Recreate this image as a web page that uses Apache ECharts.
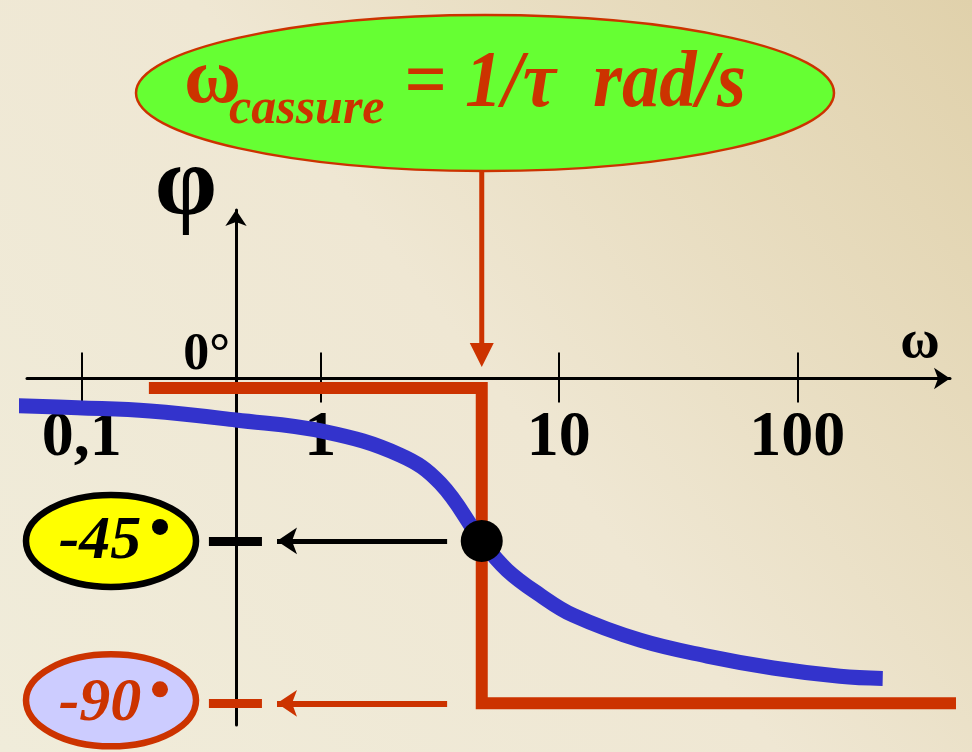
<!DOCTYPE html>
<html>
<head>
<meta charset="utf-8">
<script src="https://cdn.jsdelivr.net/npm/echarts@6/dist/echarts.min.js"></script>
<style>
  html, body { margin: 0; padding: 0; }
  #main { width: 972px; height: 752px; }
</style>
</head>
<body>
<div id="main"></div>
<script>
// decades shown on the omega axis
const tickValues = [0.1, 1, 10, 100];
const tickLabels = ['0,1', '1', '10', '100'];

// break frequency (rad/s)
const omegaC = 4.75;

const curveOmega = [0.054, 0.096, 0.193, 0.443, 1.04, 2.16, 3.18, 4.75, 6.07, 8.35, 11.5, 21.9, 41.9, 79.2, 151, 228];
const curvePhase = [-7.5, -8.1, -9.0, -11.5, -14.7, -21.2, -29.0, -45, -53.1, -60.0, -65.6, -72.5, -76.9, -80.2, -82.5, -83.1];

// asymptotic approximation
const asymOmega = [0.191, omegaC, omegaC, 541];
const asymPhase = [-2.6, -2.6, -90, -90];

// phase marks on the phi axis
const markPhase = [-45, -90];
const markText = ['-45', '-90'];

const RED = '#cc3300';
const BLUE = '#3333cc';
const SERIF = '"Liberation Serif", "Times New Roman", serif';

const lg = Math.log10;

let chart = echarts.init(document.getElementById('main'));

function tickLabel(v) {
  const i = tickValues.findIndex(t => Math.abs(lg(t) - Number(v)) < 1e-6);
  return i < 0 ? '' : tickLabels[i];
}

const option = {
  animation: false,
  backgroundColor: {
    type: 'linear', x: 0, y: 1, x2: 1, y2: 0,
    colorStops: [
      { offset: 0, color: '#f0ecda' },
      { offset: 0.5, color: '#efe7d3' },
      { offset: 1, color: '#e0d1ab' }
    ]
  },
  grid: { left: 27, right: 22, top: 210, bottom: 27, outerBoundsMode: 'none' },
  xAxis: [{
    type: 'value', min: -1.23, max: 2.64,
    axisLine: { show: true, onZero: true, symbol: ['none', 'arrow'], symbolSize: [16, 16],
      lineStyle: { color: '#000', width: 3 } },
    axisTick: { show: true, customValues: tickValues.map(lg), length: 24,
      lineStyle: { color: '#000', width: 2 } },
    axisLabel: { show: true, customValues: tickValues.map(lg), formatter: tickLabel, margin: 28,
      color: '#000', fontFamily: SERIF, fontWeight: 'bold', fontSize: 64 },
    splitLine: { show: false }
  }, {
    // second copy of the axis, only for the upper half of the ticks
    type: 'value', min: -1.23, max: 2.64, position: 'top',
    axisLine: { show: false, onZero: true, onZeroAxisIndex: 0 },
    axisTick: { show: true, customValues: tickValues.map(lg), length: 26,
      lineStyle: { color: '#000', width: 2 } },
    axisLabel: { show: false },
    splitLine: { show: false }
  }],
  yAxis: {
    type: 'value', min: -96, max: 46.7, offset: -209,
    axisLine: { show: true, onZero: false, symbol: ['none', 'arrow'], symbolSize: [16, 16],
      lineStyle: { color: '#000', width: 3 } },
    axisTick: { show: false },
    axisLabel: { show: false },
    splitLine: { show: false }
  },
  series: [
    {
      type: 'line',
      data: asymOmega.map((w, i) => [lg(w), asymPhase[i]]),
      showSymbol: false, symbol: 'none', clip: false, silent: true,
      lineStyle: { color: RED, width: 12, join: 'miter', cap: 'butt' }
    },
    {
      type: 'line',
      data: curveOmega.map((w, i) => [lg(w), curvePhase[i]]),
      showSymbol: false, symbol: 'none', smooth: 0.4, clip: false, silent: true,
      lineStyle: { color: BLUE, width: 15, cap: 'butt' }
    },
    {
      type: 'scatter',
      data: [[lg(omegaC), -45]],
      symbolSize: 42, clip: false, silent: true, z: 5,
      itemStyle: { color: '#000', opacity: 1 },
      markLine: {
        silent: true, symbol: 'none', label: { show: false },
        data: [
          [{ coord: [lg(0.341), -45], lineStyle: { color: '#000', width: 9, type: 'solid' } },
           { coord: [lg(0.569), -45] }],
          [{ coord: [lg(0.341), -90], lineStyle: { color: RED, width: 9, type: 'solid' } },
           { coord: [lg(0.569), -90] }],
          [{ coord: [lg(3.40), -45], lineStyle: { color: '#000', width: 5, type: 'solid' } },
           { coord: [lg(0.658), -45], symbol: 'arrow', symbolSize: [20, 20] }],
          [{ coord: [lg(3.40), -90], lineStyle: { color: RED, width: 6, type: 'solid' } },
           { coord: [lg(0.658), -90], symbol: 'arrow', symbolSize: [20, 20] }]
        ]
      }
    }
  ]
};

chart.setOption(option);

// annotations placed from the axes
const toPx = (w, p) => chart.convertToPixel({ gridIndex: 0 }, [lg(w), p]);
const zeroY = toPx(1, 0)[1];
const cx = toPx(omegaC, 0)[0];

// the tick labels stay at the grid bottom, pull them up under the zero line
const gridBottom = 752 - 27;
chart.setOption({ xAxis: [{ axisLabel: { margin: 28 - (gridBottom - zeroY) } }, {}] });

const graphics = [];

// callout ellipse with the break frequency
graphics.push({
  type: 'ellipse', shape: { cx: 485, cy: 93, rx: 349, ry: 78 },
  style: { fill: '#66ff33', stroke: RED, lineWidth: 2.5 }, z: 10
});
graphics.push({
  type: 'text', x: 184, y: 82, z: 11,
  style: { text: 'ω', fill: RED, font: 'bold 78px ' + SERIF, align: 'left', verticalAlign: 'middle' }
});
graphics.push({
  type: 'text', x: 229, y: 110, z: 11,
  style: { text: 'cassure', fill: RED, font: 'italic bold 50px ' + SERIF, align: 'left', verticalAlign: 'middle' }
});
graphics.push({
  type: 'text', x: 404, y: 85, z: 11,
  style: { text: '= 1/τ  rad/s', fill: RED, font: 'italic bold 80px ' + SERIF, align: 'left',
    verticalAlign: 'middle' },
  scaleX: 0.93, originX: 0
});
graphics.push({
  type: 'line', shape: { x1: cx, y1: 171, x2: cx, y2: 345 },
  style: { stroke: RED, lineWidth: 5 }, z: 10
});
graphics.push({
  type: 'polygon', shape: { points: [[cx - 12, 343], [cx + 12, 343], [cx, 367]] },
  style: { fill: RED }, z: 10
});

// axis names
graphics.push({
  type: 'text', x: 186, y: 188, z: 11,
  style: { text: 'φ', fill: '#000', font: 'bold 100px ' + SERIF, align: 'center', verticalAlign: 'middle' }
});
graphics.push({
  type: 'text', x: 920, y: 343, z: 11,
  style: { text: 'ω', fill: '#000', font: 'bold 54px ' + SERIF, align: 'center', verticalAlign: 'middle' }
});
graphics.push({
  type: 'text', x: 230, y: 356, z: 11,
  style: { text: '0°', fill: '#000', font: 'bold 52px ' + SERIF, align: 'right', verticalAlign: 'middle' }
});

// -45 and -90 labels in ellipses
const labelFill = ['#ffff00', '#ccccff'];
const labelStroke = ['#000', RED];
markPhase.forEach((p, i) => {
  const py = toPx(1, p)[1];
  graphics.push({
    type: 'ellipse', shape: { cx: 111, cy: py - (i ? 3 : 0), rx: 85, ry: 46 },
    style: { fill: labelFill[i], stroke: labelStroke[i], lineWidth: 6.5 }, z: 10
  });
  graphics.push({
    type: 'text', x: 100, y: py + 1, z: 11,
    style: { text: markText[i], fill: labelStroke[i], font: 'italic bold 62px ' + SERIF,
      align: 'center', verticalAlign: 'middle' }
  });
  graphics.push({
    type: 'circle', shape: { cx: 160, cy: py - 14, r: 8 },
    style: { fill: labelStroke[i] }, z: 11
  });
});

chart.setOption({ graphic: graphics });
</script>
</body>
</html>
